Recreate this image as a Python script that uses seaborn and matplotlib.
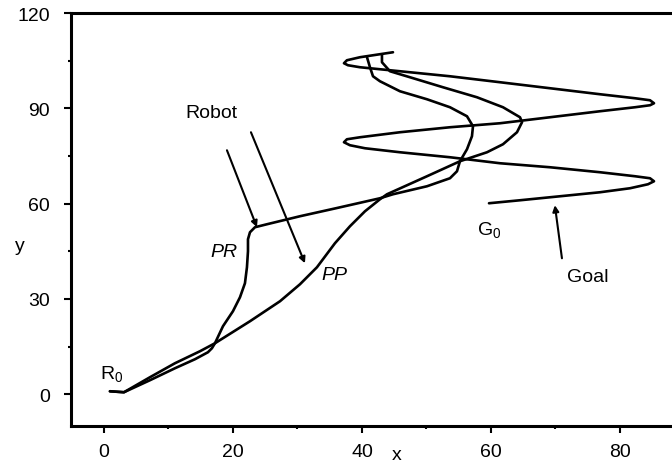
import matplotlib
matplotlib.use("Agg")
import matplotlib.pyplot as plt
import seaborn as sns
from matplotlib.ticker import MultipleLocator

# ---- data ----
goal_x = [59.69, 64.50, 70.70, 76.90, 81.55, 84.34, 85.27, 84.65, 82.33, 76.90,
          69.15, 61.40, 53.64, 45.89, 40.47, 38.14, 37.21, 37.67, 39.69, 45.89,
          53.64, 61.40, 69.15, 76.90, 82.33, 84.65, 85.27, 84.65, 82.33, 76.90,
          69.15, 61.40, 53.64, 45.89, 39.69, 37.83, 37.21, 37.67, 39.69, 44.81]
goal_y = [60.12, 61.06, 62.32, 63.58, 64.84, 66.10, 67.04, 67.99, 68.62, 69.88,
          71.45, 72.71, 74.60, 76.17, 77.43, 78.38, 79.32, 80.26, 80.89, 82.47,
          84.04, 85.30, 87.19, 89.08, 90.34, 90.97, 91.60, 92.54, 93.17, 94.43,
          96.32, 98.21, 100.09, 101.67, 102.93, 103.56, 104.19, 105.13, 106.08, 107.65]

pr_x = [0.93, 3.10, 7.13, 11.01, 14.11, 16.12, 16.74, 17.21, 18.45, 20.00,
        21.09, 21.86, 22.17, 22.33, 22.33, 22.64, 23.41, 25.27, 30.39, 35.97,
        42.79, 44.81, 50.08, 53.64, 54.73, 55.19, 56.28, 57.05, 57.21, 56.28,
        53.64, 50.08, 45.89, 42.79, 41.71, 41.24, 40.78]
pr_y = [0.94, 0.63, 4.41, 8.18, 11.02, 13.22, 14.48, 16.05, 21.40, 26.13,
        30.53, 34.94, 39.97, 45.01, 48.79, 50.99, 52.57, 53.51, 56.03, 58.55,
        61.69, 62.95, 65.47, 67.99, 70.19, 73.34, 77.12, 81.21, 84.36, 87.50,
        90.34, 92.85, 95.37, 98.52, 100.09, 102.93, 106.08]

pp_x = [0.93, 3.10, 7.13, 11.01, 14.88, 17.21, 22.64, 27.29, 30.39, 33.02,
        35.81, 38.14, 40.47, 42.79, 43.88, 50.08, 55.19, 59.38, 61.86, 64.03,
        64.81, 64.50, 61.86, 57.83, 52.56, 47.44, 44.34, 43.10, 43.10]
pp_y = [0.94, 0.63, 5.35, 9.76, 13.53, 16.05, 22.98, 29.27, 34.62, 39.97,
        47.53, 52.88, 57.60, 61.38, 62.95, 68.62, 73.34, 76.17, 78.69, 82.47,
        85.62, 87.19, 90.34, 93.48, 96.63, 99.78, 101.67, 104.50, 107.02]

x_ticks = [0, 20, 40, 60, 80]
y_ticks = [0, 30, 60, 90, 120]

# ---- style ----
sns.set_style("ticks")
plt.rcParams["font.family"] = ["Liberation Sans", "DejaVu Sans"]
plt.rcParams["mathtext.default"] = "regular"
plt.rcParams["text.color"] = "black"
plt.rcParams["xtick.color"] = "black"
plt.rcParams["ytick.color"] = "black"
plt.rcParams["xtick.labelcolor"] = "black"
plt.rcParams["ytick.labelcolor"] = "black"
FS = 14

fig = plt.figure(figsize=(6.72, 4.64), dpi=100)
ax = fig.add_axes([0.1057, 0.0797, 0.8943, 0.8901])

for xs, ys in [(goal_x, goal_y), (pr_x, pr_y), (pp_x, pp_y)]:
    sns.lineplot(x=xs, y=ys, sort=False, estimator=None, color="black",
                 linewidth=1.9, solid_joinstyle="round", solid_capstyle="round",
                 ax=ax)

ax.set_xlim(-5.1, 88.06)
ax.set_ylim(-10, 120)
ax.set_xticks(x_ticks)
ax.set_yticks(y_ticks)
ax.xaxis.set_minor_locator(MultipleLocator(10))
ax.yaxis.set_minor_locator(MultipleLocator(15))
ax.tick_params(which="major", direction="out", length=5, width=1.5,
               labelsize=FS, colors="black")
ax.tick_params(axis="y", which="major", pad=10)
ax.tick_params(axis="x", which="major", pad=7)
ax.tick_params(which="minor", direction="out", length=2.5, width=1.5)
for s in ["left", "bottom", "top"]:
    ax.spines[s].set_linewidth(2.2)
    ax.spines[s].set_color("black")
    ax.spines[s].set_visible(True)
ax.spines["right"].set_visible(False)
ax.set_xlabel("")
ax.set_ylabel("")

fig.text(20 / 672, 1 - 247 / 464, "y", fontsize=FS, ha="center", va="center")
fig.text(397 / 672, 1 - 456 / 464, "x", fontsize=FS, ha="center", va="center")

ax.text(16.74, 88.76, "Robot", fontsize=FS, ha="center", va="center")
ax.text(18.6, 45.0, "PR", fontsize=FS, style="italic", ha="center", va="center")
ax.text(35.8, 37.8, "PP", fontsize=FS, style="italic", ha="center", va="center")
ax.text(75.0, 37.1, "Goal", fontsize=FS, ha="center", va="center")
ax.text(-0.62, 6.6, r"R$_0$", fontsize=FS, ha="left", va="center")
ax.text(57.8, 51.9, r"G$_0$", fontsize=FS, ha="left", va="center")

arrow_kw = dict(arrowstyle="-|>", color="black", lw=1.5, mutation_scale=9,
                shrinkA=0, shrinkB=0)
ax.annotate("", xy=(23.72, 52.57), xytext=(19.07, 76.80), arrowprops=arrow_kw)
ax.annotate("", xy=(31.16, 41.23), xytext=(22.79, 82.47), arrowprops=arrow_kw)
ax.annotate("", xy=(69.9, 59.5), xytext=(71.0, 42.8), arrowprops=arrow_kw)

fig.savefig("out.png", dpi=100)
